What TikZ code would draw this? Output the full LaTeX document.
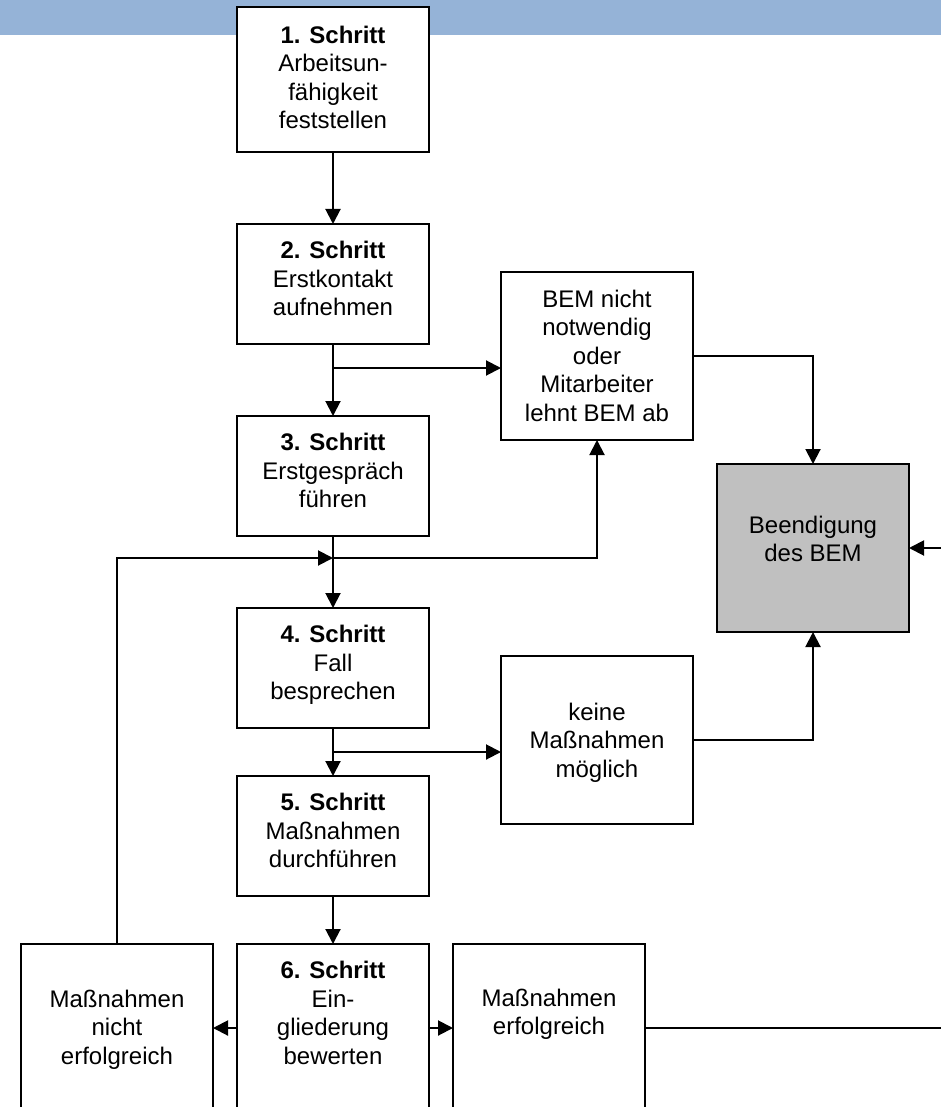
\documentclass[tikz,border=0pt]{standalone}
\usepackage{fontspec}
\setmainfont{Liberation Sans}
\usetikzlibrary{positioning,calc,arrows.meta}

\definecolor{balkenblau}{HTML}{95B3D7}
\definecolor{endegrau}{HTML}{C0C0C0}

% text block of a box: height, top gap, lines
\newcommand{\kastentext}[3]{\parbox[c][#1][t]{188pt}{\centering\vspace*{#2}#3}}

\tikzset{
  kasten/.style={draw, line width=2pt, fill=white, minimum width=192pt,
    inner sep=0pt, outer sep=0pt, font=\fontsize{24pt}{28.5pt}\selectfont},
  pfeil/.style={line width=2pt, -{Triangle[length=15pt,width=15pt]}},
}

\begin{document}
\begin{tikzpicture}[x=1pt, y=-1pt]
    \useasboundingbox (0,0) rectangle (941,1107);
    \clip (0,0) rectangle (941,1107);
    \fill[balkenblau] (0,0) rectangle (941,35);

    % Schritte
    \node[kasten] (s1) at (333,79.5) {\kastentext{145pt}{19pt}{\textbf{1. Schritt}\\Arbeitsun-\\fähigkeit\\feststellen}};
    \node[kasten, below=72pt of s1] (s2) {\kastentext{120pt}{17.5pt}{\textbf{2. Schritt}\\Erstkontakt\\aufnehmen}};
    \node[kasten, below=72pt of s2] (s3) {\kastentext{120pt}{17.5pt}{\textbf{3. Schritt}\\Erstgespräch\\führen}};
    \node[kasten, below=72pt of s3] (s4) {\kastentext{120pt}{17.5pt}{\textbf{4. Schritt}\\Fall\\besprechen}};
    \node[kasten, below=48pt of s4] (s5) {\kastentext{120pt}{17.5pt}{\textbf{5. Schritt}\\Maßnahmen\\durchführen}};
    \node[kasten, below=48pt of s5] (s6) {\kastentext{168pt}{17.5pt}{\textbf{6. Schritt}\\Ein-\\gliederung\\bewerten}};
    \node[kasten, left=24pt of s6] (nicht) {\kastentext{168pt}{46pt}{Maßnahmen\\nicht\\erfolgreich}};
    \node[kasten, right=24pt of s6] (erfolg) {\kastentext{168pt}{45pt}{Maßnahmen\\erfolgreich}};

    % Ausgaenge
    \node[kasten] (bem) at (597,356) {\kastentext{168pt}{18pt}{BEM nicht\\notwendig\\oder\\Mitarbeiter\\lehnt BEM ab}};
    \node[kasten, fill=endegrau] (ende) at (813,548) {\kastentext{168pt}{52pt}{Beendigung\\des BEM}};
    \node[kasten] (keine) at (597,740) {\kastentext{168pt}{47pt}{keine\\Maßnahmen\\möglich}};

    \coordinate (j2) at ($(s2.south)+(0,24)$);
    \coordinate (j3) at ($(s3.south)+(0,22)$);
    \coordinate (j4) at ($(s4.south)+(0,24)$);
    \coordinate (rand) at (960,0);

    \draw[pfeil] (s1) -- (s2);
    \draw[pfeil] (s2) -- (s3);
    \draw[pfeil] (j2) -- (j2 -| bem.west);
    \draw[pfeil] (s3) -- (s4);
    \draw[pfeil] (j3) -| (bem.south);
    \draw[pfeil] (nicht.north) |- (j3);
    \draw[pfeil] (s4) -- (s5);
    \draw[pfeil] (j4) -- (j4 -| keine.west);
    \draw[pfeil] (s5) -- (s6);
    \draw[pfeil] (bem.east) -| (ende.north);
    \draw[pfeil] (keine.east) -| (ende.south);
    \draw[pfeil] (s6) -- (nicht);
    \draw[pfeil] (s6) -- (erfolg);
    \draw[pfeil] (erfolg.east) -- (erfolg.east -| rand) |- (ende.east);
\end{tikzpicture}
\end{document}
